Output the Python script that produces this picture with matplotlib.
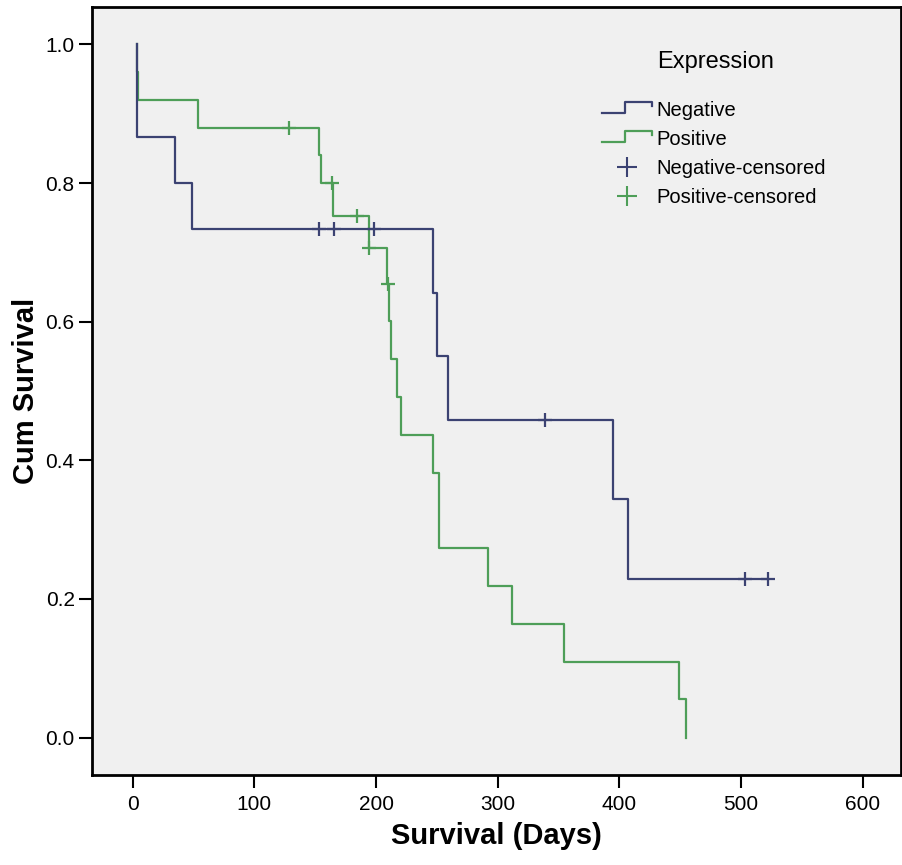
import matplotlib
matplotlib.use("Agg")
import matplotlib.pyplot as plt
from matplotlib.lines import Line2D
from matplotlib.legend_handler import HandlerBase

plt.rcParams['font.family'] = ['Liberation Sans', 'DejaVu Sans']

# ---- data (Kaplan-Meier steps) ----
neg_times = [3.3, 3.3, 34.8, 48.5, 247.1, 250.3, 259.4, 395.0, 406.8, 522.4]
neg_surv  = [1.0, 0.867, 0.800, 0.733, 0.642, 0.550, 0.458, 0.344, 0.229, 0.229]
neg_cens_t = [153.1, 165.2, 198.1, 338.9, 503.2, 522.4]
neg_cens_s = [0.733, 0.733, 0.733, 0.458, 0.229, 0.229]

pos_times = [3.3, 3.3, 4.4, 53.9, 153.1, 155.0, 165.0, 194.6, 209.0, 210.3, 212.0,
             217.0, 220.4, 247.1, 252.0, 292.3, 311.5, 354.7, 449.0, 454.5]
pos_surv  = [1.0, 0.96, 0.92, 0.88, 0.840, 0.800, 0.753, 0.707, 0.655, 0.601, 0.546,
             0.491, 0.437, 0.382, 0.273, 0.218, 0.164, 0.109, 0.055, 0.0]
pos_cens_t = [128.5, 164.0, 184.1, 194.4, 209.8]
pos_cens_s = [0.880, 0.800, 0.753, 0.707, 0.655]

x_ticks = [0, 100, 200, 300, 400, 500, 600]
y_ticks = [0.0, 0.2, 0.4, 0.6, 0.8, 1.0]

NAVY = "#3b4272"
GREEN = "#4e9e58"


class StepHandler(HandlerBase):
    # little step glyph like the SPSS legend
    def create_artists(self, legend, orig_handle, xdescent, ydescent,
                       width, height, fontsize, trans):
        x0, y0 = -xdescent, -ydescent
        xs = [x0, x0 + 0.47 * width, x0 + 0.47 * width, x0 + width, x0 + width]
        ys = [y0 + 0.2 * height, y0 + 0.2 * height, y0 + 1.0 * height,
              y0 + 1.0 * height, y0 + 0.72 * height]
        ln = Line2D(xs, ys, color=orig_handle.get_color(),
                    linewidth=orig_handle.get_linewidth(), transform=trans)
        return [ln]


fig = plt.figure(figsize=(9.03, 8.65), dpi=100)
ax = fig.add_axes([92 / 903, 1 - 775 / 865, 809 / 903, 768 / 865])
ax.set_facecolor("#f0f0f0")

ax.step(pos_times, pos_surv, where="post", color=GREEN, linewidth=1.6, zorder=2)
ax.plot(pos_cens_t, pos_cens_s, linestyle="none", marker="+", markersize=10,
        markeredgewidth=1.6, color=GREEN, zorder=2)
ax.step(neg_times, neg_surv, where="post", color=NAVY, linewidth=1.6, zorder=3)
ax.plot(neg_cens_t, neg_cens_s, linestyle="none", marker="+", markersize=10,
        markeredgewidth=1.6, color=NAVY, zorder=3)

ax.set_xlim(-33.5, 631.5)
ax.set_ylim(-0.054, 1.054)
ax.set_xticks(x_ticks)
ax.set_yticks(y_ticks)
ax.set_yticklabels([f"{v:.1f}" for v in y_ticks])
ax.tick_params(direction="out", length=9.5, width=1.5, labelsize=15, colors="black")
ax.tick_params(axis="x", pad=5)
ax.tick_params(axis="y", pad=3)
for sp in ax.spines.values():
    sp.set_linewidth(2)
    sp.set_color("black")

ax.set_xlabel("Survival (Days)", fontsize=21, fontweight="bold", labelpad=6)
ax.set_ylabel("Cum Survival", fontsize=21, fontweight="bold", labelpad=4)

# ---- legend ----
handles = [
    Line2D([], [], color=NAVY, linewidth=1.6),
    Line2D([], [], color=GREEN, linewidth=1.6),
    Line2D([], [], color=NAVY, linestyle="none", marker="+", markersize=14, markeredgewidth=1.5),
    Line2D([], [], color=GREEN, linestyle="none", marker="+", markersize=14, markeredgewidth=1.5),
]
labels = ["Negative", "Positive", "Negative-censored", "Positive-censored"]
leg = ax.legend(handles, labels, loc="upper left",
                bbox_to_anchor=((601.7 - 92) / 809, 1 - (101 - 7) / 768),
                frameon=False, fontsize=14.5, borderpad=0, borderaxespad=0,
                handlelength=2.5, handletextpad=0.2, labelspacing=0.5,
                handler_map={handles[0]: StepHandler(), handles[1]: StepHandler()})
ax.text((656.7 - 92) / 809, 1 - (68.3 - 7) / 768, "Expression", transform=ax.transAxes,
        fontsize=17, ha="left", va="baseline")

fig.savefig("out.png", dpi=100)
